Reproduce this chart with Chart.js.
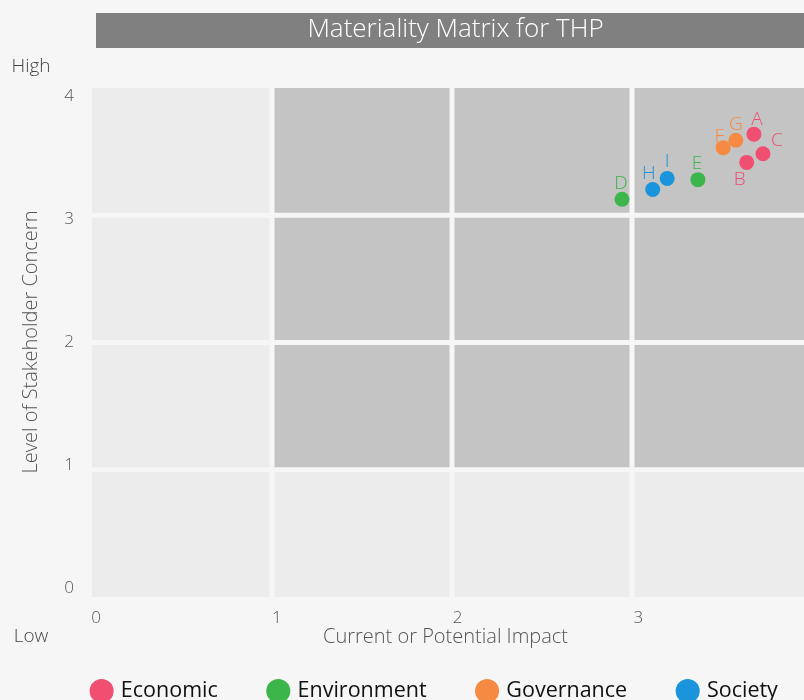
<!DOCTYPE html>
<html><head><meta charset="utf-8">
<script src="https://cdn.jsdelivr.net/npm/chart.js@4.4.1/dist/chart.umd.min.js"></script>
<style>
html,body{margin:0;padding:0;background:#f6f6f6;overflow:hidden;width:804px;height:700px;}
#wrap{position:absolute;left:0;top:0;width:880px;height:720px;}
</style></head><body>
<div id="wrap"><canvas id="c" width="880" height="720"></canvas></div>
<script>
// ---- data ----
const seriesNames = ['Economic', 'Environment', 'Governance', 'Society'];
const economicLabels = ['A', 'B', 'C'];
const economicX = [3.64, 3.60, 3.69];
const economicY = [3.69, 3.46, 3.53];
const environmentLabels = ['D', 'E'];
const environmentX = [2.91, 3.33];
const environmentY = [3.16, 3.32];
const governanceLabels = ['F', 'G'];
const governanceX = [3.47, 3.54];
const governanceY = [3.58, 3.64];
const societyLabels = ['H', 'I'];
const societyX = [3.08, 3.16];
const societyY = [3.24, 3.33];
const tickValues = [0, 1, 2, 3, 4];

// ---- style ----
const colors = ['#f04f72', '#3cb54a', '#f68a42', '#1a95dc'];
const FONT = '"Open Sans", Lato, sans-serif';
// label placement relative to point (style only)
const labelOffset = {A:[3,-15],B:[-7,17],C:[14,-13],D:[-1,-16],E:[-1,-16],F:[-4,-11],G:[0,-16],H:[-4,-16],I:[0,-17]};

function pts(xs, ys, ls){ return xs.map((x,i)=>({x:x, y:ys[i], label:ls[i]})); }
const groups = [
  pts(economicX, economicY, economicLabels),
  pts(environmentX, environmentY, environmentLabels),
  pts(governanceX, governanceY, governanceLabels),
  pts(societyX, societyY, societyLabels)
];

const bgPlugin = {
  id: 'bg',
  beforeDraw(chart){
    const ctx = chart.ctx, ca = chart.chartArea;
    ctx.save();
    // title bar
    ctx.fillStyle = '#808080';
    ctx.fillRect(ca.left, 13, ca.right - ca.left, 35);
    ctx.fillStyle = '#ffffff';
    ctx.font = '300 26px ' + FONT;
    ctx.textAlign = 'center'; ctx.textBaseline = 'middle';
    ctx.fillText('Materiality Matrix for THP', (ca.left + ca.right)/2 - 2, 30);
    // matrix cells
    const bx0 = ca.left - 4, bx1 = ca.right - 7, by0 = ca.top - 8, by1 = ca.bottom + 9;
    const cw = (bx1 - bx0)/4, ch = (by1 - by0)/4, g = 2.5;
    for (let i=0;i<4;i++){
      for (let j=0;j<4;j++){
        const x0 = bx0 + i*cw + (i>0?g:0), x1 = bx0 + (i+1)*cw - (i<3?g:0);
        const y1 = by1 - j*ch - (j>0?g:0), y0 = by1 - (j+1)*ch + (j<3?g:0);
        ctx.fillStyle = (i===0 || j===0) ? '#ececec' : '#c4c4c4';
        ctx.fillRect(x0, y0, x1-x0, y1-y0);
      }
    }
    // side texts
    ctx.fillStyle = '#444';
    ctx.font = '300 19px ' + FONT;
    ctx.textAlign = 'center';
    ctx.fillText('High', 31, 67);
    ctx.fillText('Low', 31, 637);
    ctx.fillStyle = '#555';
    ctx.font = '300 20px ' + FONT;
    ctx.fillText('Current or Potential Impact', (ca.left + ca.right)/2 - 12, 637);
    ctx.restore();
  },
  afterDatasetsDraw(chart){
    const ctx = chart.ctx;
    ctx.save();
    ctx.font = '300 19px ' + FONT;
    ctx.textAlign = 'center'; ctx.textBaseline = 'middle';
    chart.data.datasets.forEach((ds, di) => {
      const meta = chart.getDatasetMeta(di);
      meta.data.forEach((el, k) => {
        const lab = ds.data[k].label;
        const off = labelOffset[lab] || [0,-16];
        ctx.fillStyle = ds.backgroundColor;
        ctx.fillText(lab, el.x + off[0], el.y + off[1]);
      });
    });
    ctx.restore();
  }
};

new Chart(document.getElementById('c'), {
  type: 'scatter',
  data: {
    datasets: groups.map((g, i) => ({
      label: seriesNames[i],
      data: g,
      backgroundColor: colors[i],
      borderColor: colors[i],
      borderWidth: 0,
      pointRadius: 7.5,
      pointHoverRadius: 7.5
    }))
  },
  options: {
    responsive: false,
    animation: false,
    devicePixelRatio: 1,
    layout: { padding: { left: 0, right: 9, top: 96, bottom: 8.25 } },
    plugins: {
      title: { display: false },
      tooltip: { enabled: false },
      legend: {
        position: 'bottom',
        labels: {
          usePointStyle: true, pointStyle: 'circle',
          boxWidth: 17, boxHeight: 17, padding: 52,
          color: '#111', font: { family: FONT, size: 21.5 }
        }
      }
    },
    scales: {
      x: {
        type: 'linear', min: 0, max: 4,
        afterBuildTicks(s){ s.ticks = tickValues.map(v => ({value: v})); },
        ticks: { padding: 20, color: '#555', font: { family: FONT, size: 17, weight: 300 } },
        grid: { display: false, drawTicks: false },
        border: { display: false },
        title: { display: false },
        afterFit(s){ s.height = 40.25; }
      },
      y: {
        type: 'linear', min: 0, max: 4,
        afterBuildTicks(s){ s.ticks = tickValues.map(v => ({value: v})); },
        ticks: { padding: 22, color: '#555', font: { family: FONT, size: 17, weight: 300 } },
        grid: { display: false, drawTicks: false },
        border: { display: false },
        title: { display: true, text: 'Level of Stakeholder Concern', color: '#555',
                 font: { family: FONT, size: 20, weight: 300 }, padding: { top: 19, bottom: 0 } },
        afterFit(s){ s.width = 96; }
      },
      yR: {
        type: 'linear', position: 'right', display: true,
        ticks: { display: false },
        grid: { display: false, drawTicks: false },
        border: { display: false },
        afterFit(s){ s.width = 52; }
      }
    }
  },
  plugins: [bgPlugin]
});
</script>
</body></html>
